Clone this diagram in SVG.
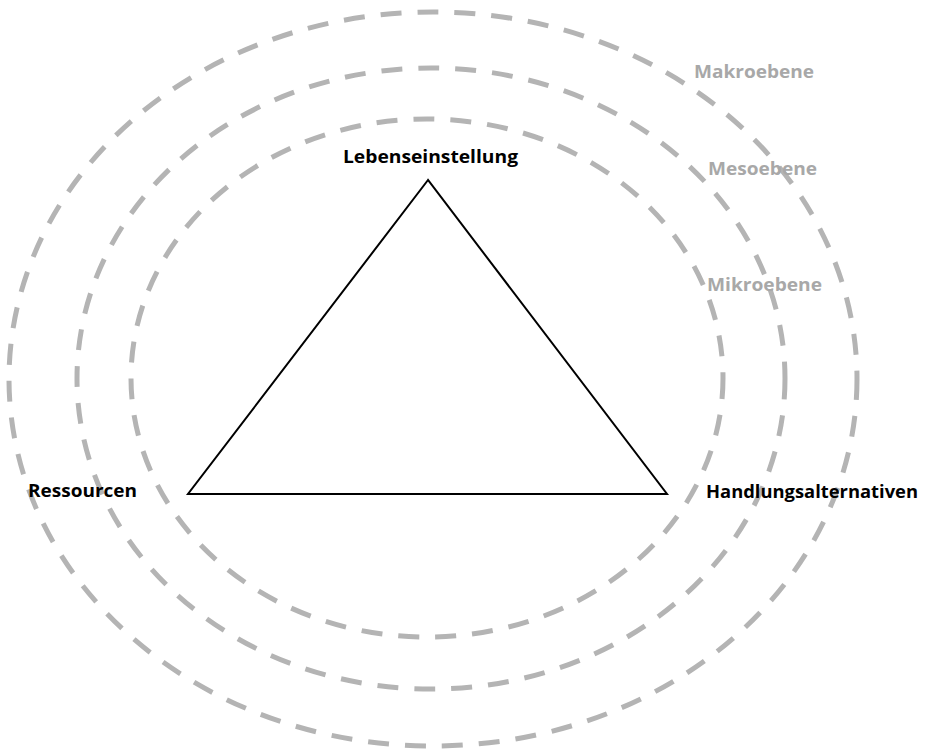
<svg xmlns="http://www.w3.org/2000/svg" width="927" height="756" viewBox="0 0 927 756">
<style>
.ring{fill:none;stroke:#b4b4b4;stroke-width:5;stroke-dasharray:21 16}
.lvl{font-family:"Open Sans","Liberation Sans",sans-serif;font-weight:bold;font-size:18px;fill:#a8a8a8}
.lbl{font-family:"Open Sans","Liberation Sans",sans-serif;font-weight:bold;font-size:18px;fill:#000}
.edge{fill:none;stroke:#000;stroke-width:2;stroke-linejoin:miter}
</style>
<rect width="927" height="756" fill="#fff"/>
<g id="rings">
<ellipse id="makro" class="ring" cx="433" cy="379" rx="424" ry="367"/>
<ellipse id="meso" class="ring" cx="431" cy="378.5" rx="354" ry="310.5"/>
<ellipse id="mikro" class="ring" cx="427" cy="378" rx="296" ry="259"/>
</g>
<g id="connectors">
<path class="edge" d="M428,180 L188,494 L667,494 Z"/>
</g>
<g id="node-lebenseinstellung"><text class="lbl" x="343" y="163" textLength="175" lengthAdjust="spacingAndGlyphs">Lebenseinstellung</text></g>
<g id="node-ressourcen"><text class="lbl" x="28" y="497" textLength="109" lengthAdjust="spacingAndGlyphs">Ressourcen</text></g>
<g id="node-handlungsalternativen"><text class="lbl" x="706" y="498" textLength="212" lengthAdjust="spacingAndGlyphs">Handlungsalternativen</text></g>
<g id="label-makro"><text class="lvl" x="694" y="78" textLength="120" lengthAdjust="spacingAndGlyphs">Makroebene</text></g>
<g id="label-meso"><text class="lvl" x="708" y="175" textLength="109" lengthAdjust="spacingAndGlyphs">Mesoebene</text></g>
<g id="label-mikro"><text class="lvl" x="707" y="291" textLength="115" lengthAdjust="spacingAndGlyphs">Mikroebene</text></g>
</svg>
